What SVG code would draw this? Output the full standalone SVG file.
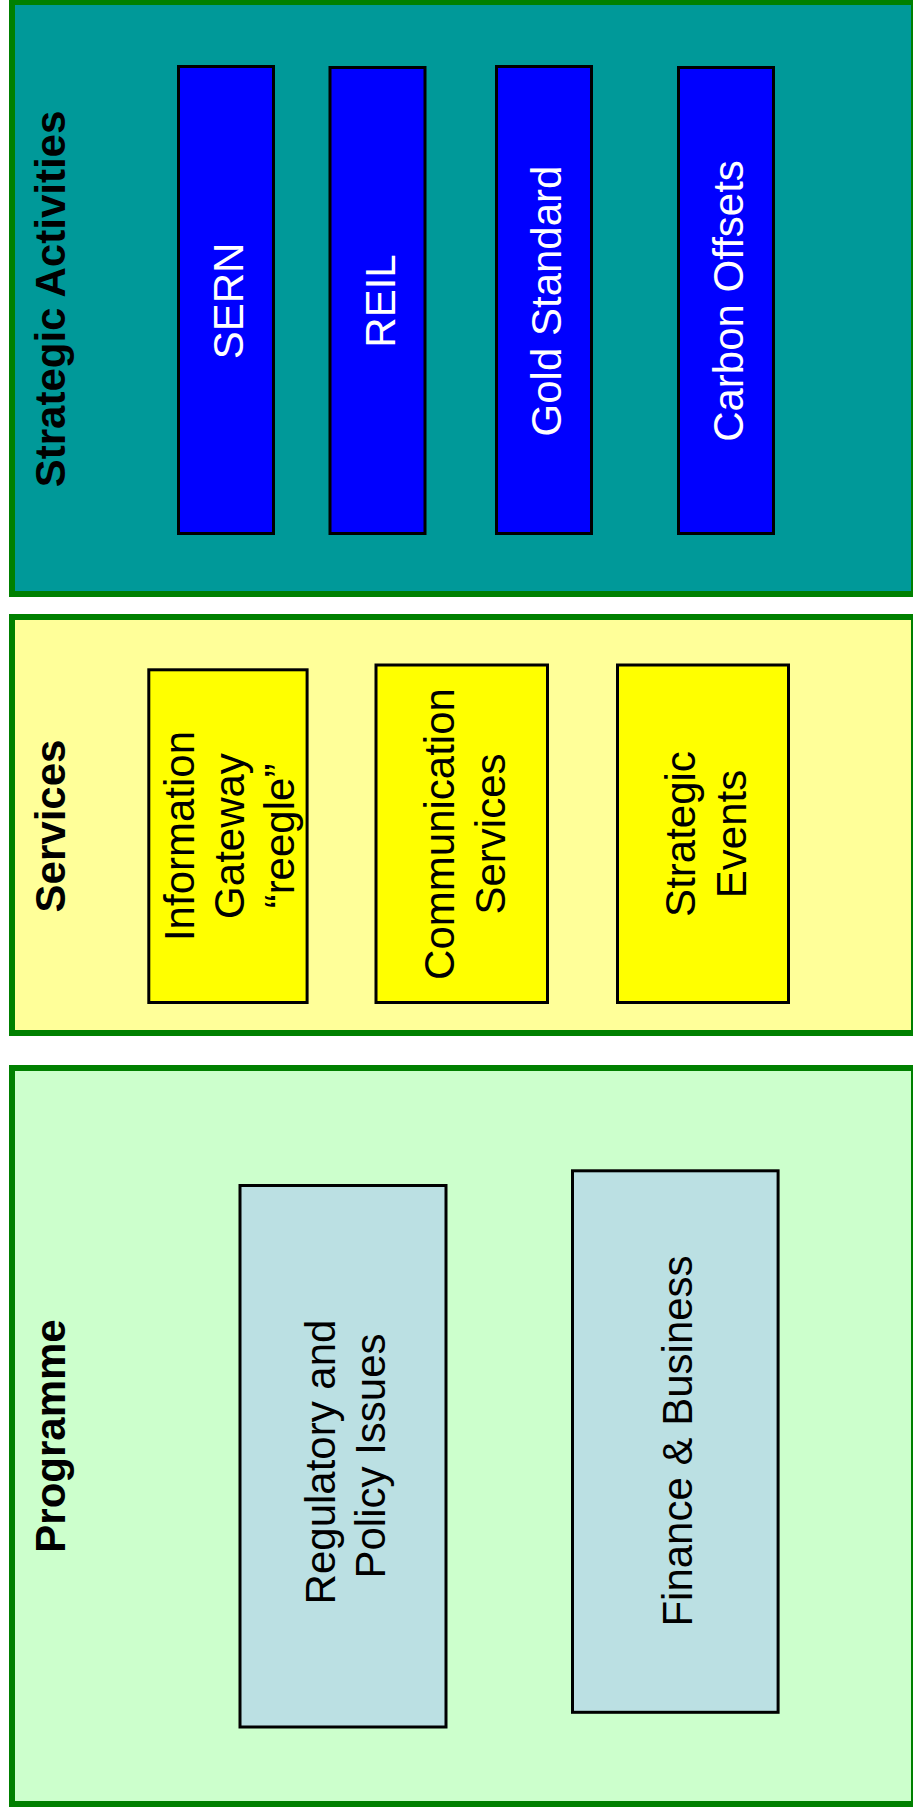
<svg xmlns="http://www.w3.org/2000/svg" width="913" height="1814" viewBox="0 0 913 1814">
<style>
.panel{stroke:#008000;stroke-width:6}
.box{stroke:#000;stroke-width:3}
.t{font-family:"Liberation Sans",Arial,sans-serif;font-size:42px;text-anchor:middle}
.title{font-family:"Liberation Sans",Arial,sans-serif;font-size:42px;font-weight:bold;text-anchor:middle;fill:#000}
.w{fill:#fff}
.k{fill:#000}
</style>
<rect width="913" height="1814" fill="#fff"/>
<g id="strategic-activities">
<rect class="panel" x="12" y="2" width="902" height="592" fill="#009999"/>
<text class="title" transform="translate(65,299) rotate(-90)">Strategic Activities</text>
</g>
<g id="sern">
<rect class="box" x="178.5" y="66.5" width="95" height="467" fill="#0000ff"/>
<text class="t w" transform="translate(226,301) rotate(-90)" y="17">SERN</text>
</g>
<g id="reil">
<rect class="box" x="330" y="67.5" width="95" height="466" fill="#0000ff"/>
<text class="t w" transform="translate(377.5,301) rotate(-90)" y="17">REIL</text>
</g>
<g id="gold-standard">
<rect class="box" x="496.5" y="66.5" width="95" height="467" fill="#0000ff"/>
<text class="t w" transform="translate(544,301) rotate(-90)" y="17">Gold Standard</text>
</g>
<g id="carbon-offsets">
<rect class="box" x="678.5" y="67.5" width="95" height="466" fill="#0000ff"/>
<text class="t w" transform="translate(726,301) rotate(-90)" y="17">Carbon Offsets</text>
</g>
<g id="services">
<rect class="panel" x="12" y="617" width="902" height="416" fill="#ffff99"/>
<text class="title" transform="translate(65,826) rotate(-90)">Services</text>
</g>
<g id="information-gateway">
<rect class="box" x="148.8" y="669.8" width="158.3" height="332.7" fill="#ffff00"/>
<text class="t k" transform="translate(228,836) rotate(-90)"><tspan x="0" y="-34">Information</tspan><tspan x="0" y="16">Gateway</tspan><tspan x="0" y="66">“reegle”</tspan></text>
</g>
<g id="communication-services">
<rect class="box" x="376" y="665" width="171.5" height="337.5" fill="#ffff00"/>
<text class="t k" transform="translate(461.7,834) rotate(-90)"><tspan x="0" y="-8">Communication</tspan><tspan x="0" y="43">Services</tspan></text>
</g>
<g id="strategic-events">
<rect class="box" x="617.5" y="665" width="171" height="337.5" fill="#ffff00"/>
<text class="t k" transform="translate(703,834) rotate(-90)"><tspan x="0" y="-8">Strategic</tspan><tspan x="0" y="43">Events</tspan></text>
</g>
<g id="programme">
<rect class="panel" x="12" y="1068" width="902" height="736" fill="#ccffcc"/>
<text class="title" transform="translate(65,1436) rotate(-90)">Programme</text>
</g>
<g id="regulatory-policy">
<rect class="box" x="240" y="1185.5" width="206" height="541.5" fill="#bbe0e3"/>
<text class="t k" transform="translate(343,1456) rotate(-90)"><tspan x="-6" y="-8">Regulatory and</tspan><tspan x="0" y="42">Policy Issues</tspan></text>
</g>
<g id="finance-business">
<rect class="box" x="572.5" y="1170.8" width="205.6" height="541.5" fill="#bbe0e3"/>
<text class="t k" transform="translate(675.3,1441) rotate(-90)" y="17">Finance &amp; Business</text>
</g>
<g id="connectors"></g>
</svg>
